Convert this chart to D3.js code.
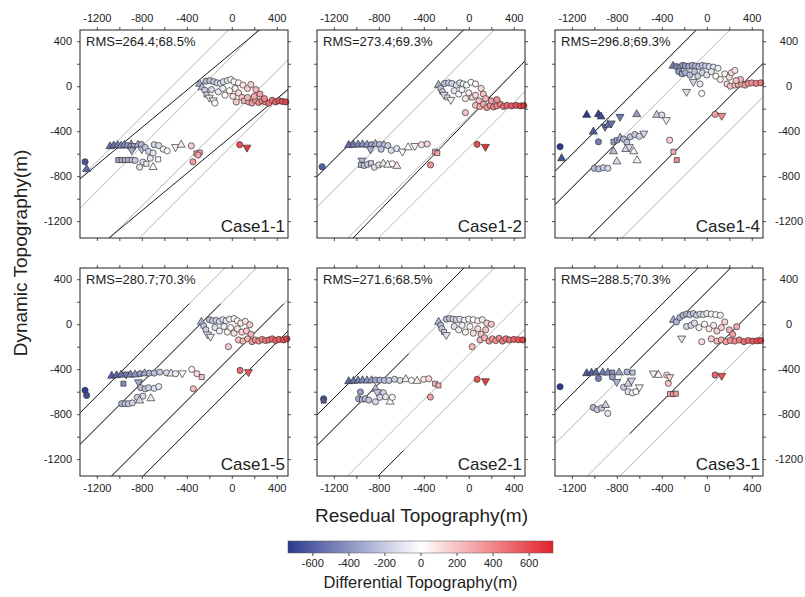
<!DOCTYPE html>
<html>
<head>
<meta charset="utf-8">
<script src="https://cdn.jsdelivr.net/npm/d3@7/dist/d3.min.js"></script>
<style>
html, body { margin: 0; padding: 0; background: #fff; }
svg { display: block; font-family: "Liberation Sans", Arial, sans-serif; }
</style>
</head>
<body>
<svg id="chart" width="805" height="597"></svg>
<script>
// ---- panel titles and misfit statistics ----
const caseNames = ["Case1-1", "Case1-2", "Case1-4", "Case1-5", "Case2-1", "Case3-1"];
const rmsValues = [264.4, 273.4, 296.8, 280.7, 271.6, 288.5];
const hitRates  = [68.5, 69.3, 69.3, 70.3, 68.5, 70.3];

// ---- axis ticks ----
const axisTicks  = [-1200, -1000, -800, -600, -400, -200, 0, 200, 400];
const axisLabels = [-1200, -800, -400, 0, 400];
const colorTicks = [-600, -400, -200, 0, 200, 400, 600];

// multiples of RMS for the grey 1:1 band lines
const bandMultiples = [2, 1, -1, -2];

// black fitted lines: [slope, intercept, x from, x to]
const fitCase11 = [[0.83, 296, -1350, 500], [0.83, -443, -1350, 500]];
const fitCase12 = [[1, 546.8, -1350, 500], [1.03, -290, -1350, 500]];
const fitCase14 = [[1, 593.6, -1350, 500], [1, 296.8, -1350, -750], [1, -296.8, -1350, 500]];
const fitCase15 = [[1, 561.4, -1350, -379], [1, 280.7, -1350, -99], [1, -280.7, -1350, 463], [1, -561.4, -1350, 500]];
const fitCase21 = [[1, 543.2, -1350, 500], [1, 271.6, -1350, -534], [1, -543.2, -820, -582]];
const fitCase31 = [[1, 577, -1350, 500], [1, 288.5, -683, 500], [1, -288.5, -683, 500]];

// stations: [residual topography, dynamic topography, marker]
// c = circle, t = triangle, v = inverted triangle, s = square
const pointsCase11 = [
  [-1305,-672,'c'],[-1291,-737,'t'],
  [-1083,-535,'t'],[-1050,-528,'t'],[-1015,-525,'t'],[-985,-530,'t'],[-955,-522,'t'],[-925,-528,'c'],[-895,-520,'t'],[-865,-530,'v'],[-835,-522,'t'],[-805,-518,'c'],
  [-890,-568,'v'],[-800,-560,'v'],[-770,-545,'c'],[-740,-580,'c'],[-700,-595,'c'],[-690,-520,'c'],[-650,-528,'c'],[-610,-560,'c'],[-575,-575,'c'],[-500,-540,'v'],[-450,-522,'t'],[-360,-530,'c'],
  [-1010,-657,'s'],[-980,-657,'s'],[-950,-657,'s'],[-920,-655,'s'],[-890,-657,'s'],[-860,-660,'c'],
  [-820,-720,'c'],[-790,-675,'c'],[-760,-690,'s'],[-725,-640,'c'],[-700,-720,'t'],[-655,-650,'s'],
  [-315,-598,'s'],[-285,-590,'s'],[-300,-612,'c'],[-345,-672,'c'],
  [70,-520,'c'],[135,-545,'v'],
  [-285,20,'t'],[-265,-10,'t'],[-240,-35,'c'],[-225,-75,'s'],[-200,-100,'v'],[-165,-125,'v'],[-150,-150,'c'],
  [-230,45,'c'],[-195,50,'c'],[-160,40,'c'],[-130,30,'c'],[-100,25,'c'],[-75,40,'c'],[-40,50,'c'],[-10,60,'c'],[20,40,'c'],[60,30,'c'],[100,10,'c'],[140,-20,'c'],[170,15,'c'],[215,-30,'c'],
  [-180,-30,'c'],[-120,-50,'c'],[-80,-20,'c'],[-60,-80,'c'],[-20,-40,'c'],[10,-90,'c'],[30,-20,'c'],[60,-60,'c'],[90,-100,'c'],[110,-130,'s'],
  [150,-140,'c'],[180,-150,'c'],[210,-125,'c'],[240,-145,'c'],[270,-130,'c'],[300,-140,'c'],[330,-150,'c'],[360,-125,'c'],[390,-140,'c'],[420,-130,'c'],[450,-135,'c'],[480,-140,'c'],
  [140,-100,'c'],[200,-90,'c'],[250,-70,'c'],[290,-110,'c'],[40,-140,'c']
];
const pointsCase12 = [
  [-1305,-716,'c'],
  [-1068,-525,'t'],[-1025,-522,'t'],[-985,-520,'t'],[-945,-518,'t'],[-905,-522,'t'],[-865,-520,'c'],[-830,-515,'t'],[-795,-518,'c'],[-755,-525,'t'],[-720,-528,'c'],
  [-875,-560,'v'],[-780,-560,'c'],[-690,-570,'c'],[-640,-555,'c'],[-590,-580,'v'],[-540,-545,'t'],[-480,-530,'v'],[-420,-520,'c'],[-370,-514,'c'],
  [-950,-660,'v'],[-960,-700,'s'],[-930,-705,'c'],[-900,-695,'c'],[-870,-685,'s'],[-840,-720,'c'],[-800,-700,'c'],[-760,-690,'t'],[-720,-700,'t'],[-680,-690,'c'],[-640,-710,'t'],
  [-300,-583,'s'],[-280,-595,'s'],[-340,-700,'c'],
  [74,-517,'c'],[148,-538,'v'],
  [-270,10,'t'],[-250,-20,'c'],[-235,-50,'c'],[-220,-75,'v'],[-190,-100,'s'],[-160,-120,'v'],[-215,25,'c'],[-180,30,'c'],[-150,25,'c'],[-110,10,'c'],[-80,30,'c'],[-50,20,'c'],[-20,10,'c'],[20,35,'c'],[60,20,'c'],[110,-20,'c'],
  [-130,-40,'c'],[-90,-70,'c'],[-60,-30,'c'],[-30,-110,'c'],[0,-60,'c'],[30,-100,'s'],[60,-80,'c'],[90,-130,'c'],[130,-70,'c'],[-30,-235,'c'],
  [60,-170,'c'],[100,-180,'c'],[130,-160,'c'],[160,-190,'c'],[190,-170,'c'],[220,-185,'c'],[250,-175,'c'],[280,-160,'c'],[310,-180,'c'],[340,-170,'c'],[380,-175,'c'],[420,-170,'c'],[460,-175,'c'],[490,-172,'c'],
  [200,-130,'c'],[250,-120,'c'],[150,-110,'c']
];
const pointsCase14 = [
  [-1305,-538,'c'],[-1291,-642,'t'],
  [-1068,-256,'t'],[-964,-250,'t'],[-940,-270,'t'],[-772,-271,'v'],[-623,-250,'t'],[-1009,-405,'t'],[-905,-360,'v'],[-880,-345,'t'],[-850,-330,'v'],
  [-964,-494,'c'],[-830,-494,'s'],[-800,-480,'s'],[-770,-460,'t'],[-740,-470,'c'],[-710,-500,'c'],[-680,-450,'c'],[-640,-430,'c'],[-600,-445,'c'],[-560,-420,'v'],[-720,-560,'t'],[-690,-540,'v'],[-650,-580,'t'],[-830,-580,'t'],
  [-1000,-730,'c'],[-960,-735,'c'],[-920,-725,'c'],[-880,-730,'c'],[-800,-670,'t'],[-620,-660,'t'],
  [-445,-256,'t'],[-400,-256,'c'],[-360,-300,'v'],[-330,-480,'c'],[-297,-583,'s'],[-267,-657,'s'],
  [74,-250,'c'],[133,-262,'v'],
  [-300,180,'t'],[-270,175,'c'],[-240,170,'c'],[-215,185,'c'],[-190,180,'c'],[-160,178,'c'],[-130,185,'c'],[-100,180,'c'],[-70,175,'c'],[-40,185,'c'],[-10,180,'c'],[20,175,'c'],[60,170,'c'],[100,160,'c'],
  [-250,130,'c'],[-220,110,'s'],[-190,120,'c'],[-150,100,'c'],[-110,130,'c'],[-80,90,'c'],[-40,120,'c'],[0,100,'c'],[40,130,'c'],[80,90,'c'],[120,60,'c'],[160,110,'c'],[200,80,'c'],[-180,-49,'v'],[-45,-64,'c'],[-120,40,'v'],[-60,20,'c'],
  [220,120,'c'],[250,140,'c'],[180,20,'c'],[210,0,'c'],[250,10,'c'],[280,15,'c'],[310,20,'c'],[340,10,'c'],[370,25,'c'],[400,30,'c'],[440,25,'c'],[480,30,'c'],[300,60,'c'],[260,50,'c']
];
const pointsCase15 = [
  [-1305,-588,'c'],[-1291,-633,'c'],
  [-1068,-460,'t'],[-1025,-455,'t'],[-985,-450,'t'],[-940,-445,'v'],[-900,-450,'t'],[-860,-448,'t'],[-815,-440,'c'],[-775,-438,'t'],[-735,-435,'c'],[-690,-435,'c'],[-640,-426,'c'],[-580,-432,'c'],[-540,-440,'t'],[-500,-440,'c'],[-440,-435,'v'],[-356,-402,'c'],[-310,-440,'c'],[-267,-470,'s'],
  [-964,-529,'s'],[-830,-515,'v'],[-810,-565,'c'],[-770,-575,'c'],[-740,-565,'c'],[-690,-570,'c'],[-650,-555,'c'],
  [-980,-707,'c'],[-950,-707,'c'],[-920,-707,'c'],[-885,-700,'c'],[-840,-650,'c'],[-790,-640,'c'],[-720,-660,'t'],[-820,-680,'t'],
  [-342,-574,'c'],
  [74,-411,'c'],[148,-425,'v'],
  [-270,20,'t'],[-250,-15,'c'],[-230,-50,'c'],[-215,-90,'v'],[-190,-110,'v'],[-200,40,'c'],[-170,30,'c'],[-140,35,'c'],[-110,25,'c'],[-80,40,'c'],[-50,30,'c'],[-20,45,'c'],[20,50,'c'],[50,30,'c'],[80,10,'c'],[120,25,'c'],[160,-5,'c'],
  [-150,-30,'c'],[-110,-60,'c'],[-70,-20,'c'],[-40,-70,'c'],[-10,-30,'c'],[20,-80,'c'],[50,-40,'c'],[90,-70,'c'],[130,-60,'c'],[170,-90,'c'],[-30,-200,'c'],
  [60,-140,'c'],[100,-150,'c'],[140,-130,'c'],[180,-155,'c'],[210,-140,'c'],[240,-150,'c'],[270,-135,'c'],[300,-145,'c'],[330,-140,'c'],[360,-130,'c'],[390,-145,'c'],[420,-135,'c'],[460,-140,'c'],[490,-130,'c']
];
const pointsCase21 = [
  [-1291,-663,'c'],[-1291,-680,'s'],
  [-1068,-508,'t'],[-1025,-505,'t'],[-985,-502,'t'],[-945,-500,'t'],[-905,-502,'t'],[-865,-500,'t'],[-830,-497,'c'],[-790,-497,'c'],[-750,-500,'c'],[-710,-500,'c'],[-660,-490,'c'],[-610,-500,'c'],[-560,-490,'t'],[-510,-500,'c'],[-460,-505,'t'],[-400,-490,'c'],[-356,-485,'c'],[-300,-529,'s'],[-270,-545,'s'],
  [-964,-603,'c'],[-830,-575,'t'],[-815,-603,'v'],[-760,-610,'c'],
  [-980,-663,'c'],[-950,-670,'s'],[-920,-663,'c'],[-890,-675,'c'],[-830,-690,'c'],[-790,-650,'c'],[-740,-645,'c'],[-700,-690,'t'],[-680,-650,'c'],
  [-342,-648,'c'],
  [74,-490,'c'],[148,-505,'v'],
  [-268,20,'t'],[-250,-10,'c'],[-240,-40,'c'],[-220,-70,'s'],[-200,-95,'v'],[-200,45,'c'],[-170,50,'c'],[-140,45,'c'],[-110,40,'c'],[-80,45,'c'],[-40,35,'c'],[0,45,'c'],[40,40,'c'],[80,30,'c'],[120,40,'c'],[160,10,'c'],[200,0,'c'],
  [-130,-20,'c'],[-90,-50,'c'],[-60,-10,'c'],[-30,-70,'c'],[10,-20,'c'],[40,-80,'c'],[80,-40,'c'],[110,-90,'c'],[150,-50,'c'],[30,-200,'c'],
  [100,-140,'c'],[140,-120,'c'],[180,-150,'c'],[210,-130,'c'],[240,-145,'c'],[270,-125,'c'],[300,-150,'c'],[330,-130,'c'],[360,-140,'c'],[400,-135,'c'],[440,-138,'c'],[480,-140,'c']
];
const pointsCase31 = [
  [-1305,-556,'c'],
  [-1068,-437,'t'],[-1025,-432,'t'],[-985,-430,'t'],[-925,-430,'t'],[-880,-432,'t'],[-840,-430,'s'],[-780,-430,'t'],[-710,-425,'c'],[-660,-430,'s'],
  [-964,-482,'c'],[-801,-512,'v'],[-840,-470,'c'],[-740,-560,'c'],[-700,-530,'t'],[-670,-500,'v'],[-700,-600,'c'],[-660,-610,'c'],[-630,-600,'c'],[-600,-560,'v'],
  [-475,-437,'v'],[-430,-452,'t'],[-356,-452,'c'],[-342,-526,'c'],[-330,-470,'v'],
  [-327,-620,'s'],[-300,-622,'s'],[-275,-618,'s'],
  [-1010,-740,'c'],[-975,-760,'c'],[-935,-745,'c'],[-900,-720,'t'],[-880,-793,'c'],
  [74,-452,'c'],[133,-458,'v'],
  [-297,37,'t'],[-270,20,'c'],[-240,60,'c'],[-210,80,'c'],[-180,90,'c'],[-150,85,'c'],[-120,95,'c'],[-90,80,'c'],[-60,90,'c'],[-30,85,'c'],[0,95,'c'],[40,90,'c'],[80,85,'c'],[120,80,'c'],
  [-223,-126,'v'],[-180,-20,'c'],[-140,-10,'c'],[-110,10,'c'],[-70,-30,'c'],[-45,-156,'c'],[-20,0,'c'],[20,-40,'c'],[60,-10,'c'],[90,-60,'c'],[130,-30,'c'],[160,20,'c'],[200,-50,'c'],[266,-22,'c'],[230,-90,'c'],
  [40,-130,'c'],[90,-150,'c'],[130,-140,'c'],[170,-155,'c'],[210,-145,'c'],[250,-150,'c'],[290,-140,'c'],[330,-155,'c'],[370,-145,'c'],[410,-150,'c'],[450,-148,'c'],[480,-145,'c']
];

const pointSets = [pointsCase11, pointsCase12, pointsCase14, pointsCase15, pointsCase21, pointsCase31];
const fitSets = [fitCase11, fitCase12, fitCase14, fitCase15, fitCase21, fitCase31];

// ---- layout ----
const svg = d3.select("#chart");
const colX = [80, 317, 555];
const rowY = [30, 268];
const side = 208;
const domain = [-1350, 500];

// differential topography colour map (residual minus dynamic)
const colorDomain = [-735, 735];
const color = d3.scaleLinear()
  .domain([colorDomain[0], 0, colorDomain[1]])
  .range(["#2b3a8e", "#ffffff", "#e3232b"])
  .clamp(true);

const symbolOf = {
  c: d3.symbol().type(d3.symbolCircle).size(30)(),
  t: d3.symbol().type(d3.symbolTriangle).size(28)(),
  v: d3.symbol().type(d3.symbolTriangle).size(28)(),
  s: d3.symbol().type(d3.symbolSquare).size(25)()
};

const defs = svg.append("defs");

function styleAxis(g) {
  g.select(".domain").remove();
  g.selectAll(".tick line").attr("stroke", "#222").attr("stroke-width", 0.8);
  g.selectAll(".tick text").attr("fill", "#222").style("font-size", "11px");
}

caseNames.forEach((name, i) => {
  const col = i % 3, row = Math.floor(i / 3);
  const x0 = colX[col], y0 = rowY[row];
  const x = d3.scaleLinear().domain(domain).range([x0, x0 + side]);
  const y = d3.scaleLinear().domain(domain).range([y0 + side, y0]);
  const g = svg.append("g").attr("class", "panel");

  const clipId = "clip-" + i;
  defs.append("clipPath").attr("id", clipId)
    .append("rect").attr("x", x0).attr("y", y0).attr("width", side).attr("height", side);
  const plot = g.append("g").attr("clip-path", `url(#${clipId})`);

  // grey 1:1 lines offset by multiples of RMS
  plot.selectAll("line.band").data(bandMultiples).join("line")
    .attr("class", "band")
    .attr("x1", x(domain[0])).attr("x2", x(domain[1]))
    .attr("y1", m => y(domain[0] + m * rmsValues[i]))
    .attr("y2", m => y(domain[1] + m * rmsValues[i]))
    .attr("stroke", "#b4b4b4").attr("stroke-width", 1);

  // black fitted lines
  plot.selectAll("line.fit").data(fitSets[i]).join("line")
    .attr("class", "fit")
    .attr("x1", d => x(d[2])).attr("y1", d => y(d[0] * d[2] + d[1]))
    .attr("x2", d => x(d[3])).attr("y2", d => y(d[0] * d[3] + d[1]))
    .attr("stroke", "#1a1a1a").attr("stroke-width", 1);

  // stations
  g.append("g").selectAll("path").data(pointSets[i]).join("path")
    .attr("transform", d => `translate(${x(d[0])},${y(d[1])})` + (d[2] === "v" ? " rotate(180)" : ""))
    .attr("d", d => symbolOf[d[2]])
    .attr("fill", d => color(d[0] - d[1]))
    .attr("stroke", "#333").attr("stroke-width", 0.7);

  // frame
  g.append("rect").attr("x", x0).attr("y", y0).attr("width", side).attr("height", side)
    .attr("fill", "none").attr("stroke", "#222").attr("stroke-width", 1);

  const fmt = show => (d => show && axisLabels.includes(d) ? String(d) : "");

  g.append("g").attr("transform", `translate(0,${y0})`)
    .call(d3.axisTop(x).tickValues(axisTicks).tickSize(3).tickPadding(5).tickFormat(fmt(row === 0)))
    .call(styleAxis);
  g.append("g").attr("transform", `translate(0,${y0 + side})`)
    .call(d3.axisBottom(x).tickValues(axisTicks).tickSize(3).tickPadding(5).tickFormat(fmt(row === 1)))
    .call(styleAxis);
  g.append("g").attr("transform", `translate(${x0},0)`)
    .call(d3.axisLeft(y).tickValues(axisTicks).tickSize(3).tickPadding(5).tickFormat(fmt(col === 0)))
    .call(styleAxis);
  const right = g.append("g").attr("transform", `translate(${x0 + side},0)`)
    .call(d3.axisRight(y).tickValues(axisTicks).tickSize(3).tickPadding(5).tickFormat(fmt(col === 2)))
    .call(styleAxis);
  right.selectAll(".tick text").attr("text-anchor", "middle").attr("x", 26);

  // statistics and case name
  g.append("text").attr("x", x0 + 6).attr("y", y0 + 16)
    .attr("fill", "#222").style("font-size", "13px")
    .text(`RMS=${rmsValues[i].toFixed(1)};${hitRates[i].toFixed(1)}%`);
  g.append("text").attr("x", x0 + side - 3).attr("y", y0 + side - 6)
    .attr("text-anchor", "end").attr("fill", "#222").style("font-size", "17px")
    .text(name);
});

// axis titles
svg.append("text")
  .attr("transform", `translate(22,${(rowY[0] + rowY[1] + side) / 2}) rotate(-90)`)
  .attr("text-anchor", "middle").attr("dominant-baseline", "middle")
  .attr("fill", "#222").style("font-size", "19px")
  .text("Dynamic Topography(m)");
svg.append("text")
  .attr("x", (colX[0] + colX[2] + side) / 2).attr("y", 522)
  .attr("text-anchor", "middle").attr("fill", "#222").style("font-size", "19px")
  .text("Resedual Topography(m)");

// colour bar
const barX = d3.scaleLinear().domain(colorDomain).range([288, 553]);
const grad = defs.append("linearGradient").attr("id", "cbar")
  .attr("x1", "0%").attr("x2", "100%").attr("y1", "0%").attr("y2", "0%");
d3.range(0, 1.0001, 0.05).forEach(t => {
  grad.append("stop").attr("offset", (t * 100) + "%")
    .attr("stop-color", color(colorDomain[0] + t * (colorDomain[1] - colorDomain[0])));
});
svg.append("rect").attr("x", barX(colorDomain[0])).attr("y", 541)
  .attr("width", barX(colorDomain[1]) - barX(colorDomain[0])).attr("height", 12)
  .attr("fill", "url(#cbar)").attr("stroke", "#555").attr("stroke-width", 0.5);
svg.append("g").attr("transform", "translate(0,553)")
  .call(d3.axisBottom(barX).tickValues(colorTicks).tickSize(3).tickPadding(3).tickFormat(d => String(d)))
  .call(styleAxis);
svg.append("text").attr("x", barX(0)).attr("y", 588)
  .attr("text-anchor", "middle").attr("fill", "#222").style("font-size", "16.5px")
  .text("Differential Topography(m)");
</script>
</body>
</html>
